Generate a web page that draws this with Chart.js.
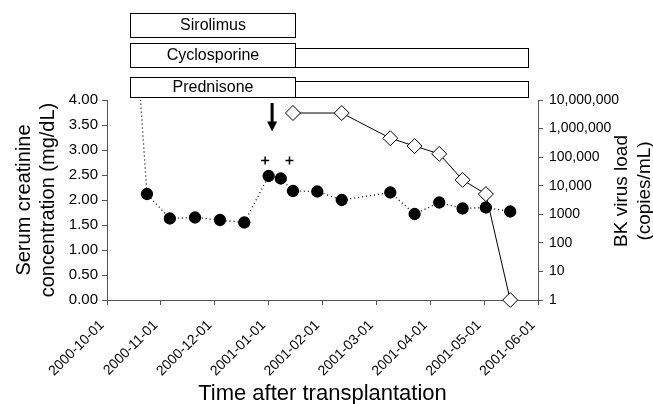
<!DOCTYPE html>
<html>
<head>
<meta charset="utf-8">
<script src="https://cdn.jsdelivr.net/npm/chart.js@4/dist/chart.umd.min.js"></script>
<style>
  html, body { margin: 0; padding: 0; background: #fff; }
  #wrap { width: 653px; height: 404px; }
</style>
</head>
<body>
<div id="wrap"><canvas id="chart" width="653" height="404"></canvas></div>
<script>
// x axis: month starts shown as tick labels
const xTickLabels = ['2000-10-01', '2000-11-01', '2000-12-01', '2001-01-01', '2001-02-01',
  '2001-03-01', '2001-04-01', '2001-05-01', '2001-06-01'];

// serum creatinine (mg/dL), first value is off the top of the chart
const creatDates = ['2000-10-14', '2000-10-24', '2000-11-06', '2000-11-20', '2000-12-04', '2000-12-18',
  '2001-01-01', '2001-01-08', '2001-01-15', '2001-01-29', '2001-02-11', '2001-03-09',
  '2001-03-23', '2001-04-06', '2001-04-19', '2001-05-02', '2001-05-16'];
const creatValues = [7.2, 2.12, 1.63, 1.65, 1.60, 1.55, 2.48, 2.43, 2.18, 2.17, 2.00, 2.15,
  1.72, 1.95, 1.83, 1.85, 1.77];

// BK virus load (copies/mL)
const bkDates = ['2001-01-15', '2001-02-11', '2001-03-09', '2001-03-23', '2001-04-06',
  '2001-04-19', '2001-05-02', '2001-05-16'];
const bkValues = [3500000, 3500000, 460000, 245000, 130000, 16000, 5100, 1];

// axis ticks
const leftTicks = [0, 0.5, 1, 1.5, 2, 2.5, 3, 3.5, 4];
const leftTickLabels = ['0.00', '0.50', '1.00', '1.50', '2.00', '2.50', '3.00', '3.50', '4.00'];
const rightTicks = [1, 10, 100, 1000, 10000, 100000, 1000000, 10000000];
const rightTickLabels = ['1', '10', '100', '1000', '10,000', '100,000', '1,000,000', '10,000,000'];

// immunosuppression: name, start, end of labelled box, end of bar (null = no bar)
const drugNames = ['Sirolimus', 'Cyclosporine', 'Prednisone'];
const drugStart = ['2000-10-14', '2000-10-14', '2000-10-14'];
const drugBoxEnd = ['2001-01-16', '2001-01-16', '2001-01-16'];
const drugBarEnd = [null, '2001-05-26', '2001-05-26'];

// annotations
const arrowDate = '2001-01-03';
const arrowFrom = 3.94;
const arrowTo = 3.37;
const plusDates = ['2000-12-30', '2001-01-13'];
const plusValue = 2.79;

const FONT = "'Liberation Sans', Arial, sans-serif";
const AXIS = '#555';

function monthPos(s) {
  const [y, m, d] = s.split('-').map(Number);
  const days = new Date(y, m, 0).getDate();
  return (y - 2000) * 12 + (m - 1) - 9 + (d - 1) / days;
}

const extras = {
  id: 'extras',
  afterDraw(chart) {
    const ctx = chart.ctx;
    const xs = chart.scales.x;
    const ys = chart.scales.y;
    ctx.save();

    // drug boxes on top
    const boxTop = [13, 43, 77];
    const boxH = [24, 24, 20];
    const barTop = [0, 48, 81];
    const barH = [0, 19, 16];
    ctx.strokeStyle = '#000';
    ctx.lineWidth = 1;
    ctx.fillStyle = '#000';
    ctx.font = '16px ' + FONT;
    ctx.textAlign = 'center';
    ctx.textBaseline = 'middle';
    drugNames.forEach((name, i) => {
      const x0 = Math.round(xs.getPixelForValue(monthPos(drugStart[i]))) + 0.5;
      const x1 = Math.round(xs.getPixelForValue(monthPos(drugBoxEnd[i]))) + 0.5;
      if (drugBarEnd[i]) {
        const x2 = Math.round(xs.getPixelForValue(monthPos(drugBarEnd[i]))) + 0.5;
        ctx.strokeRect(x1, barTop[i] + 0.5, x2 - x1, barH[i]);
      }
      ctx.fillStyle = '#fff';
      ctx.fillRect(x0, boxTop[i] + 0.5, x1 - x0, boxH[i]);
      ctx.strokeRect(x0, boxTop[i] + 0.5, x1 - x0, boxH[i]);
      ctx.fillStyle = '#000';
      ctx.fillText(name, (x0 + x1) / 2, boxTop[i] + boxH[i] / 2 + 1);
    });

    // arrow
    const ax = xs.getPixelForValue(monthPos(arrowDate));
    const ay0 = ys.getPixelForValue(arrowFrom);
    const ay1 = ys.getPixelForValue(arrowTo);
    ctx.lineWidth = 3;
    ctx.beginPath();
    ctx.moveTo(ax, ay0);
    ctx.lineTo(ax, ay1 - 8);
    ctx.stroke();
    ctx.beginPath();
    ctx.moveTo(ax - 5, ay1 - 10);
    ctx.lineTo(ax + 5, ay1 - 10);
    ctx.lineTo(ax, ay1);
    ctx.closePath();
    ctx.fill();

    // plus signs
    ctx.lineWidth = 1.5;
    plusDates.forEach(d => {
      const px = xs.getPixelForValue(monthPos(d));
      const py = ys.getPixelForValue(plusValue);
      ctx.beginPath();
      ctx.moveTo(px - 4, py);
      ctx.lineTo(px + 4, py);
      ctx.moveTo(px, py - 4);
      ctx.lineTo(px, py + 4);
      ctx.stroke();
    });

    // axis titles
    ctx.font = '22px ' + FONT;
    ctx.textAlign = 'center';
    ctx.textBaseline = 'middle';
    ctx.fillText('Time after transplantation', (chart.chartArea.left + chart.chartArea.right) / 2, 394);

    ctx.font = '20px ' + FONT;
    ctx.save();
    ctx.translate(24, 200);
    ctx.rotate(-Math.PI / 2);
    ctx.fillText('Serum creatinine', 0, 0);
    ctx.fillText('concentration (mg/dL)', 0, 24);
    ctx.restore();

    ctx.save();
    ctx.font = '19px ' + FONT;
    ctx.translate(622, 191);
    ctx.rotate(-Math.PI / 2);
    ctx.fillText('BK virus load', 0, 0);
    ctx.fillText('(copies/mL)', 0, 23);
    ctx.restore();

    ctx.restore();
  }
};

new Chart(document.getElementById('chart'), {
  type: 'line',
  data: {
    datasets: [
      {
        label: 'Serum creatinine',
        yAxisID: 'y',
        data: creatDates.map((d, i) => ({ x: monthPos(d), y: creatValues[i] })),
        borderColor: '#000',
        borderWidth: 1.3,
        borderDash: [1, 3],
        pointRadius: 5.5,
        pointBackgroundColor: '#000',
        pointBorderColor: '#000',
        clip: 0,
        order: 2
      },
      {
        label: 'BK virus load',
        yAxisID: 'y1',
        data: bkDates.map((d, i) => ({ x: monthPos(d), y: bkValues[i] })),
        borderColor: '#000',
        borderWidth: 1,
        pointStyle: 'rectRot',
        pointRadius: 7.5,
        pointBackgroundColor: '#fff',
        pointBorderColor: '#000',
        pointBorderWidth: 1,
        clip: 10,
        order: 1
      }
    ]
  },
  options: {
    responsive: false,
    animation: false,
    layout: { padding: { top: 100, left: 0, right: 0, bottom: 0 } },
    plugins: { legend: { display: false }, tooltip: { enabled: false } },
    scales: {
      x: {
        type: 'linear',
        min: 0,
        max: 8,
        afterBuildTicks: s => { s.ticks = xTickLabels.map((_, i) => ({ value: i })); },
        afterFit: s => { s.height = 104; },
        ticks: {
          autoSkip: false,
          minRotation: 45,
          maxRotation: 45,
          padding: 12,
          labelOffset: -5,
          color: '#000',
          font: { family: FONT, size: 14 },
          callback: (v, i) => xTickLabels[i]
        },
        grid: { drawOnChartArea: false, color: AXIS, tickLength: 5 },
        border: { color: AXIS }
      },
      y: {
        position: 'left',
        min: 0,
        max: 4,
        afterBuildTicks: s => { s.ticks = leftTicks.map(v => ({ value: v })); },
        afterFit: s => { s.width = 107; },
        ticks: {
          padding: 4,
          color: '#000',
          font: { family: FONT, size: 15 },
          callback: (v, i) => leftTickLabels[i]
        },
        grid: { drawOnChartArea: false, color: AXIS, tickLength: 5 },
        border: { color: AXIS }
      },
      y1: {
        type: 'logarithmic',
        position: 'right',
        min: 1,
        max: 10000000,
        afterBuildTicks: s => { s.ticks = rightTicks.map(v => ({ value: v })); },
        afterFit: s => { s.width = 115; },
        ticks: {
          padding: 6,
          color: '#000',
          font: { family: FONT, size: 14 },
          callback: (v, i) => rightTickLabels[i]
        },
        grid: { drawOnChartArea: false, color: AXIS, tickLength: 5 },
        border: { color: AXIS }
      }
    }
  },
  plugins: [extras]
});
</script>
</body>
</html>
